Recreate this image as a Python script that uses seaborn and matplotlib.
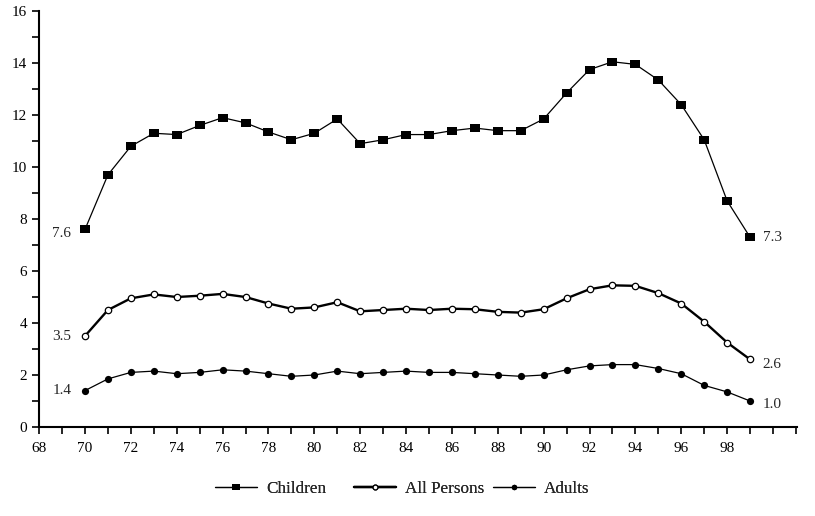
import pandas as pd
import matplotlib
matplotlib.use("Agg")
import matplotlib.pyplot as plt
import seaborn as sns
from matplotlib.ticker import MultipleLocator

years = list(range(70, 100))
children = [7.6, 9.7, 10.8, 11.3, 11.25, 11.6, 11.9, 11.7, 11.35, 11.05,
            11.3, 11.85, 10.9, 11.05, 11.25, 11.25, 11.4, 11.5, 11.4, 11.4,
            11.85, 12.85, 13.75, 14.05, 13.95, 13.35, 12.4, 11.05, 8.7, 7.3]
all_persons = [3.5, 4.5, 4.95, 5.1, 5.0, 5.05, 5.12, 5.0, 4.75, 4.55,
               4.6, 4.8, 4.45, 4.5, 4.55, 4.5, 4.55, 4.53, 4.43, 4.4,
               4.53, 4.95, 5.3, 5.45, 5.43, 5.15, 4.75, 4.05, 3.25, 2.6]
adults = [1.4, 1.85, 2.1, 2.15, 2.05, 2.1, 2.2, 2.15, 2.05, 1.95,
          2.0, 2.15, 2.05, 2.1, 2.15, 2.1, 2.1, 2.05, 2.0, 1.95,
          2.0, 2.2, 2.35, 2.4, 2.4, 2.25, 2.05, 1.6, 1.35, 1.0]

df = pd.DataFrame({"year": years, "Children": children,
                   "All Persons": all_persons, "Adults": adults})

sns.set_theme(style="ticks")
plt.rcParams["font.family"] = ["Liberation Serif", "DejaVu Serif"]

fig = plt.figure(figsize=(8.15, 5.16), dpi=100)
ax = fig.add_axes([0.048, 0.1725, 0.93, 0.806])

rect = [(-1.35, -1), (1.35, -1), (1.35, 1), (-1.35, 1), (-1.35, -1)]
sns.lineplot(data=df, x="year", y="Children", ax=ax, color="black", lw=0.9,
             marker=rect, markersize=7, markeredgewidth=0, label="Children")
sns.lineplot(data=df, x="year", y="All Persons", ax=ax, color="black", lw=1.7,
             marker="o", markersize=4.6, markerfacecolor="white",
             markeredgecolor="black", markeredgewidth=0.9, label="All Persons")
sns.lineplot(data=df, x="year", y="Adults", ax=ax, color="black", lw=0.9,
             marker="o", markersize=5.2, markeredgewidth=0, label="Adults")

# end labels
for series, dy_l, dy_r in [(children, -0.15, 0.0), (all_persons, 0.0, -0.2),
                           (adults, 0.0, -0.15)]:
    ax.text(years[0] - 0.6, series[0] + dy_l, f"{series[0]:.1f}",
            ha="right", va="center", fontsize=11)
    ax.text(years[-1] + 0.55, series[-1] + dy_r, f"{series[-1]:.1f}",
            ha="left", va="center", fontsize=11)

ax.set_xlim(68, 101.05)
ax.set_ylim(0, 16)
ax.yaxis.set_major_locator(MultipleLocator(2))
ax.yaxis.set_minor_locator(MultipleLocator(1))
ax.set_xticks(range(68, 100, 2))
ax.set_xticks(range(68, 102, 1), minor=True)
ax.tick_params(axis="both", which="both", direction="out", length=5,
               width=1.2, colors="black", labelsize=11)
ax.tick_params(axis="x", pad=6)
ax.set_xlabel("")
ax.set_ylabel("")
for side in ["top", "right"]:
    ax.spines[side].set_visible(False)
for side in ["left", "bottom"]:
    ax.spines[side].set_linewidth(1.5)
    ax.spines[side].set_color("black")

# three legend entries placed on an even column grid
handles, labels = ax.get_legend_handles_labels()
ax.get_legend().remove()
for i, (h, lab) in enumerate(zip(handles, labels)):
    leg = fig.legend([h], [lab], loc="center left",
                     bbox_to_anchor=((215 + 139 * i) / 815, 1 - 489 / 516),
                     frameon=False, fontsize=12.3, handlelength=2.45,
                     markerscale=0.75, handletextpad=0.55,
                     borderpad=0, borderaxespad=0)
    fig.add_artist(leg)

fig.savefig("out.png", dpi=100)
